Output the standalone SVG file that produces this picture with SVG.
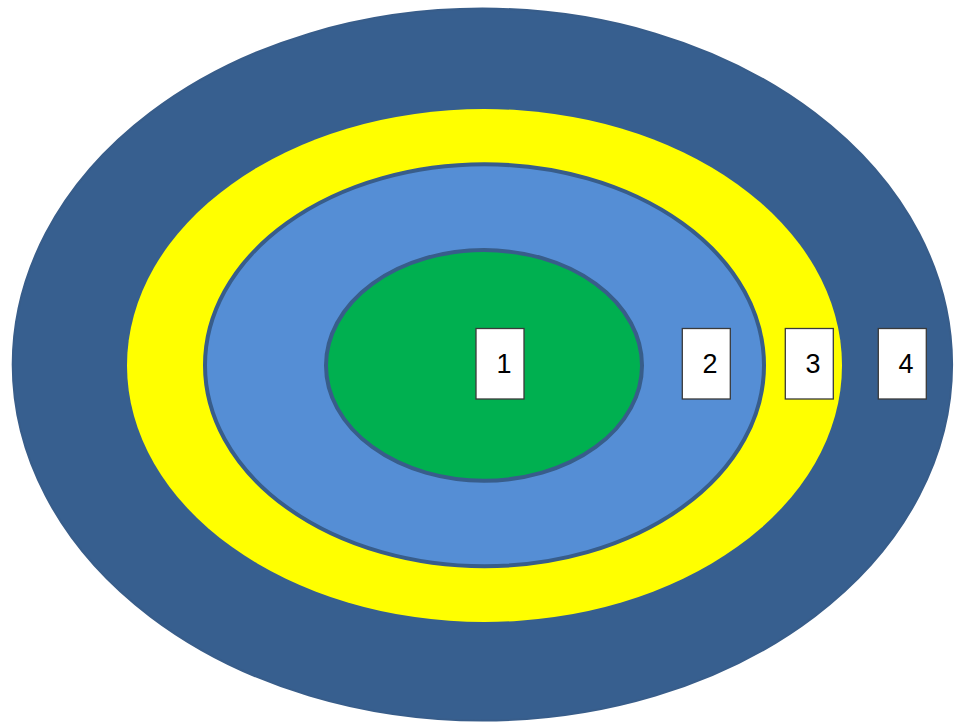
<svg xmlns="http://www.w3.org/2000/svg" width="955" height="722" viewBox="0 0 955 722">
<style>
.ring{stroke:#385D8A}
.box rect{fill:#FFFFFF;stroke:#3A3A3A;stroke-width:1.3}
.box text{font-family:"Liberation Sans",Arial,sans-serif;font-size:27px;fill:#000000;text-anchor:middle}
</style>
<rect width="955" height="722" fill="#FFFFFF"/>
<g id="outer"><ellipse class="ring" cx="482.4" cy="364.6" rx="469.7" ry="356" fill="#375F8F" stroke-width="2"/></g>
<g id="yellow"><ellipse cx="484.5" cy="365.5" rx="357.5" ry="256.5" fill="#FFFF00"/></g>
<g id="lightblue"><ellipse class="ring" cx="484.5" cy="365.3" rx="279.5" ry="201" fill="#558ED5" stroke-width="4"/></g>
<g id="green"><ellipse class="ring" cx="484" cy="365.4" rx="158" ry="115.3" fill="#00B050" stroke-width="4"/></g>
<g id="connectors"></g>
<g id="box1" class="box"><rect x="476" y="328.5" width="48" height="70.5"/><text x="504" y="373">1</text></g>
<g id="box2" class="box"><rect x="682.3" y="328.5" width="48" height="70.5"/><text x="710" y="373">2</text></g>
<g id="box3" class="box"><rect x="785.3" y="328.5" width="48" height="70.5"/><text x="813" y="373">3</text></g>
<g id="box4" class="box"><rect x="878.3" y="328.5" width="48" height="70.5"/><text x="906" y="373">4</text></g>
</svg>
